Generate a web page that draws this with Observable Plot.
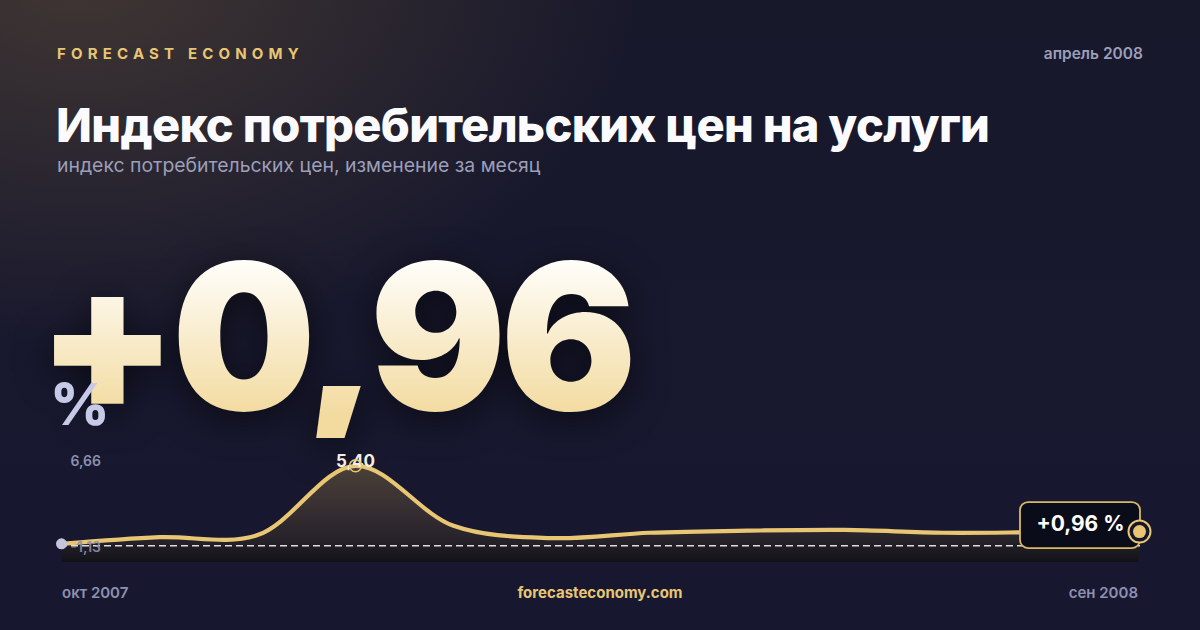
<!DOCTYPE html>
<html><head><meta charset="utf-8">
<script src="https://cdn.jsdelivr.net/npm/d3@7"></script>
<script src="https://cdn.jsdelivr.net/npm/@observablehq/plot@0.6"></script>
<style>
html,body{margin:0;padding:0;}
body{width:1200px;height:630px;overflow:hidden;font-family:Inter,"Noto Sans",sans-serif;background:#16172b;}
#card{position:relative;width:1200px;height:630px;overflow:hidden;
 background:
  radial-gradient(ellipse 560px 380px at 80px -30px, rgba(120,96,62,0.42), rgba(120,96,62,0) 100%),
  linear-gradient(180deg,#18182b 0%,#171830 100%);}
.abs{position:absolute;white-space:nowrap;}
#brand{left:57px;top:44px;font-size:15px;font-weight:700;letter-spacing:0.345em;color:#e8c673;}
#date{right:57px;top:44px;font-size:15.5px;font-weight:600;color:#9c9eba;}
#title{left:56px;top:99px;font-size:47px;font-weight:800;letter-spacing:-0.015em;color:#fbfbfd;line-height:1.1;}
#subtitle{left:57px;top:153px;font-size:19.4px;color:#9c9eba;}
#big{left:37px;top:235px;font-size:203px;font-weight:900;line-height:1;letter-spacing:-0.03em;
 background:linear-gradient(180deg,#fffefb 12%,#f3dba0 88%);-webkit-background-clip:text;background-clip:text;color:transparent;
 filter:drop-shadow(0 8px 18px rgba(0,0,0,0.55));}
#pct{left:50px;top:375px;font-size:58px;font-weight:800;line-height:1;color:#c7cae6;}
#chart{position:absolute;left:0;top:430px;}
.foot{top:583px;font-size:15px;font-weight:600;color:#8e90b0;}
#fl{left:62px;}
#fc{left:600px;transform:translateX(-50%);color:#e8c673;font-weight:700;}
#fr{right:62px;}
</style></head>
<body>
<div id="card">
  <div id="brand" class="abs">FORECAST ECONOMY</div>
  <div id="date" class="abs">апрель 2008</div>
  <div id="title" class="abs">Индекс потребительских цен на услуги</div>
  <div id="subtitle" class="abs">индекс потребительских цен, изменение за месяц</div>
  <div id="big" class="abs">+0,96</div>
  <div id="pct" class="abs">%</div>
  <div id="chart"></div>
  <div id="fl" class="abs foot">окт 2007</div>
  <div id="fc" class="abs foot">forecasteconomy.com</div>
  <div id="fr" class="abs foot">сен 2008</div>
</div>
<script>
const months = ["окт 2007","ноя 2007","дек 2007","янв 2008","фев 2008","мар 2008","апр 2008","май 2008","июн 2008","июл 2008","авг 2008","сен 2008"];
const values = [0.13, 0.58, 0.72, 5.40, 1.35, 0.52, 0.88, 1.02, 1.07, 0.88, 0.92, 0.96];
const yTicks = [-1.13, 6.66];

const fmt = v => v.toFixed(2).replace(".", ",");
const data = months.map((m, i) => ({month: m, value: values[i]}));
const peak = data[values.indexOf(d3.max(values))];
const low = data[values.indexOf(d3.min(values))];
const last = data[data.length - 1];
const gold = "#e8c673";
const ns = "http://www.w3.org/2000/svg";

const defsMark = () => {
  const defs = document.createElementNS(ns, "defs");
  defs.innerHTML = `<linearGradient id="areaGrad" x1="0" y1="0" x2="0" y2="1">
    <stop offset="0" stop-color="#4b4037"/>
    <stop offset="0.5" stop-color="#342d31"/>
    <stop offset="0.8" stop-color="#252129"/>
    <stop offset="1" stop-color="#121118"/>
  </linearGradient>`;
  return defs;
};

const boxMark = (index, scales) => {
  const g = document.createElementNS(ns, "g");
  const x = scales.x(last.month), y = scales.y(last.value);
  const r = document.createElementNS(ns, "rect");
  r.setAttribute("x", x - 119); r.setAttribute("y", y - 29);
  r.setAttribute("width", 120); r.setAttribute("height", 46);
  r.setAttribute("rx", 8);
  r.setAttribute("fill", "#0b0c1a"); r.setAttribute("stroke", "#d9b864"); r.setAttribute("stroke-width", 1.8);
  g.appendChild(r);
  return g;
};

const plot = Plot.plot({
  width: 1200, height: 140,
  marginLeft: 60, marginRight: 60, marginTop: 16.7, marginBottom: 8,
  x: {type: "point", domain: months, padding: 0, axis: null},
  y: {domain: yTicks, axis: null},
  style: {background: "transparent", overflow: "visible", fontFamily: "Inter, sans-serif"},
  marks: [
    defsMark,
    Plot.areaY(data, {x: "month", y1: yTicks[0], y2: "value", curve: "catmull-rom", fill: "url(#areaGrad)"}),
    Plot.ruleY([0], {stroke: "#ffffff", strokeOpacity: 0.85, strokeWidth: 1.5, strokeDasharray: "7,4"}),
    Plot.lineY(data, {x: "month", y: "value", curve: "catmull-rom", stroke: gold, strokeWidth: 4.2, strokeLinejoin: "round", strokeLinecap: "round"}),
    Plot.text([yTicks[1]], {y: d => d, frameAnchor: "left", textAnchor: "start", dx: 10, dy: 14.3, text: fmt, fontSize: 14, fontWeight: 600, fill: "#8d8fb0"}),
    Plot.text([yTicks[0]], {y: d => d, frameAnchor: "left", textAnchor: "start", dx: 10, dy: -14.8, text: fmt, fontSize: 14, fontWeight: 600, fill: "#8d8fb0", fillOpacity: 0.9}),
    Plot.dot([low], {x: "month", y: "value", r: 5.5, fill: "#c3c6de", stroke: "none"}),
    Plot.text([peak], {x: "month", y: "value", text: d => fmt(d.value), dy: -4, fontSize: 17, fontWeight: 700, fill: "#f3efe6"}),
    Plot.dot([peak], {x: "month", y: "value", r: 6, stroke: gold, strokeWidth: 1.5, fill: "none"}),
    boxMark,
    Plot.text([last], {x: "month", y: "value", text: d => "+" + fmt(d.value) + " %", dx: -59, dy: -7.5, fontSize: 21, fontWeight: 700, fill: "#ffffff"}),
    Plot.dot([last], {x: "month", y: "value", r: 11, stroke: gold, strokeWidth: 2, fill: "#16172b"}),
    Plot.dot([last], {x: "month", y: "value", r: 6.5, fill: gold, stroke: "none"})
  ]
});
document.getElementById("chart").appendChild(plot);
</script>
</body></html>
